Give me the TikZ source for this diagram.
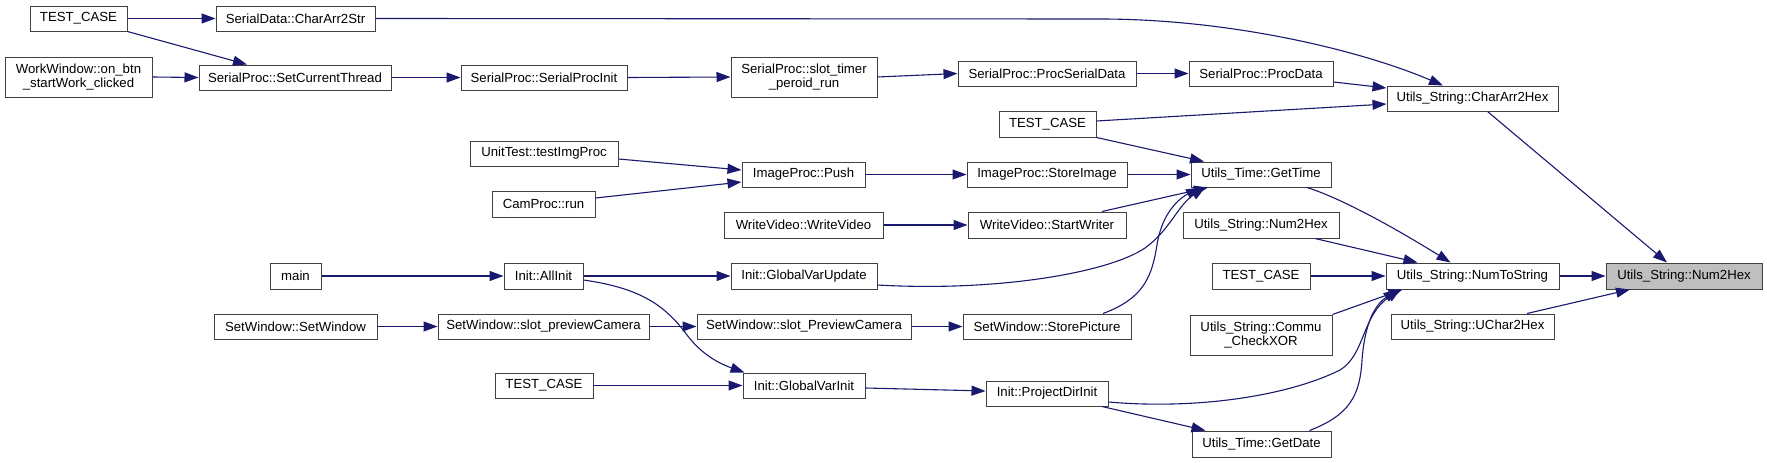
\documentclass[tikz,border=0pt]{standalone}
\usepackage{fontspec}
\setmainfont{Liberation Sans}
\usetikzlibrary{arrows.meta}
\definecolor{edgeblue}{HTML}{191970}
\definecolor{boxline}{HTML}{404040}
\definecolor{hilite}{HTML}{BFBFBF}
\tikzset{
  box/.style={draw=boxline, line width=1pt, fill=white, inner sep=0pt, align=center,
    font=\fontsize{13.2}{14.8}\selectfont},
  callarrow/.style={draw=edgeblue, line width=1.1pt, -{Triangle[length=14pt,width=10pt]}},
}
\newcommand\bx[6]{\node[box, minimum width={(#4-#2)*1pt}, minimum height={(#5-#3)*1pt}] (#1) at ({(#2+#4)/2},{(#3+#5)/2}) {#6};}
\begin{document}
\begin{tikzpicture}[x=1pt,y=-1pt]
\useasboundingbox[fill=white] (0,0) rectangle (1767,463);
% nodes
\bx{tcA}{30}{6}{127}{31}{TEST\_CASE}
\bx{cas}{216}{6}{375}{31}{SerialData::CharArr2Str}
\bx{ww}{5}{57}{152}{97}{WorkWindow::on\_btn\\\_startWork\_clicked}
\bx{sct}{199}{65}{391}{90}{SerialProc::SetCurrentThread}
\bx{spi}{461}{65}{627}{90}{SerialProc::SerialProcInit}
\bx{stp}{731}{57}{877}{97}{SerialProc::slot\_timer\\\_peroid\_run}
\bx{psd}{958}{61}{1136}{86}{SerialProc::ProcSerialData}
\bx{pd}{1189}{61}{1333}{86}{SerialProc::ProcData}
\bx{ca2h}{1387}{86}{1558}{111}{Utils\_String::CharArr2Hex}
\bx{tcB}{999}{111}{1096}{137}{TEST\_CASE}
\bx{ut}{470}{141}{618}{166}{UnitTest::testImgProc}
\bx{cam}{492}{191}{595}{217}{CamProc::run}
\bx{push}{742}{162}{865}{187}{ImageProc::Push}
\bx{si}{967}{162}{1127}{187}{ImageProc::StoreImage}
\bx{gt}{1191}{162}{1331}{187}{Utils\_Time::GetTime}
\bx{wvv}{724}{212}{883}{238}{WriteVideo::WriteVideo}
\bx{sw}{968}{212}{1126}{238}{WriteVideo::StartWriter}
\bx{n2hL}{1183}{212}{1339}{238}{Utils\_String::Num2Hex}
\bx{main}{270}{263}{321}{289}{main}
\bx{ai}{504}{263}{583}{289}{Init::AllInit}
\bx{gvu}{731}{263}{877}{289}{Init::GlobalVarUpdate}
\bx{tcC}{1212}{263}{1310}{289}{TEST\_CASE}
\bx{nts}{1386}{263}{1559}{289}{Utils\_String::NumToString}
\node[box, fill=hilite, minimum width=156pt, minimum height=26pt] (n2h) at (1684,276) {Utils\_String::Num2Hex};
\bx{sws}{214}{314}{377}{339}{SetWindow::SetWindow}
\bx{spc}{438}{314}{649}{339}{SetWindow::slot\_previewCamera}
\bx{sPC}{697}{314}{911}{339}{SetWindow::slot\_PreviewCamera}
\bx{sp}{963}{314}{1131}{339}{SetWindow::StorePicture}
\bx{xor}{1190}{315}{1332}{355}{Utils\_String::Commu\\\_CheckXOR}
\bx{u2h}{1391}{314}{1554}{339}{Utils\_String::UChar2Hex}
\bx{tcD}{495}{373}{593}{398}{TEST\_CASE}
\bx{gvi}{743}{373}{865}{398}{Init::GlobalVarInit}
\bx{pdi}{986}{381}{1108}{406}{Init::ProjectDirInit}
\bx{gd}{1192}{431}{1331}{457}{Utils\_Time::GetDate}
% edges
\draw[callarrow] (tcA.east) -- (cas.west);
\draw[callarrow] (tcA.south east) -- ([xshift=-48pt]sct.north);
\draw[callarrow] (ww.east) -- (sct.west);
\draw[callarrow] (sct.east) -- (spi.west);
\draw[callarrow] (spi.east) -- (stp.west);
\draw[callarrow] (stp.east) -- (psd.west);
\draw[callarrow] (psd.east) -- (pd.west);
\draw[callarrow] ([yshift=-8.5pt]pd.east) -- ([yshift=10.5pt]ca2h.west);
\draw[callarrow] (cas.east) -- (1100,19) .. controls (1230,19) and (1360,50) .. ([xshift=-29.5pt]ca2h.north);
\draw[callarrow] ([yshift=3pt]tcB.east) -- ([yshift=-5.5pt]ca2h.west);
\draw[callarrow] (tcB.south east) -- ([xshift=-57pt]gt.north);
\draw[callarrow] ([yshift=-5.5pt]ut.east) -- ([yshift=4.5pt]push.west);
\draw[callarrow] ([yshift=6pt]cam.east) -- ([yshift=-7.5pt]push.west);
\draw[callarrow] (push.east) -- (si.west);
\draw[callarrow] (si.east) -- (gt.west);
\draw[callarrow] (wvv.east) -- (sw.west);
\draw[callarrow] ([xshift=55pt]sw.north) -- ([xshift=-53pt]gt.south);
\draw[callarrow] (main.east) -- (ai.west);
\draw[callarrow] (ai.east) -- (gvu.west);
\draw[callarrow] ([yshift=-4pt]ai.east) .. controls (640,288) and (665,305) .. (687,335) .. controls (700,352) and (715,362) .. ([xshift=2pt]gvi.north west);
\draw[callarrow] ([yshift=-9pt]gvu.east) .. controls (1000,292) and (1110,272) .. (1145,248) .. controls (1170,230) and (1178,205) .. ([xshift=-56pt]gt.south);
\draw[callarrow] (sws.east) -- (spc.west);
\draw[callarrow] (spc.east) -- (sPC.west);
\draw[callarrow] (sPC.east) -- (sp.west);
\draw[callarrow] ([xshift=56pt]sp.north) .. controls (1145,298) and (1152,275) .. (1157,245) .. controls (1162,212) and (1180,198) .. ([xshift=-61pt]gt.south);
\draw[callarrow] (tcD.east) -- (gvi.west);
\draw[callarrow] ([yshift=-2.5pt]gvi.east) -- ([yshift=2.5pt]pdi.west);
\draw[callarrow] ([yshift=-8.5pt]pdi.east) .. controls (1200,410) and (1290,395) .. (1340,370) .. controls (1365,355) and (1362,315) .. ([xshift=-72pt]nts.south);
\draw[callarrow] ([xshift=55pt]pdi.south) -- ([xshift=-56pt]gd.north);
\draw[callarrow] ([xshift=48pt]gd.north) .. controls (1350,415) and (1360,395) .. (1362,360) .. controls (1365,322) and (1375,305) .. ([xshift=-75pt]nts.south);
\draw[callarrow] ([xshift=46pt]gt.south) .. controls (1340,198) and (1390,225) .. ([xshift=-22pt]nts.north);
\draw[callarrow] ([xshift=54pt]n2hL.south) -- ([xshift=-55pt]nts.north);
\draw[callarrow] (tcC.east) -- (nts.west);
\draw[callarrow] (xor.north east) -- ([xshift=-70pt]nts.south);
\draw[callarrow] ([xshift=15pt]ca2h.south) -- ([xshift=-17pt]n2h.north);
\draw[callarrow] (nts.east) -- (n2h.west);
\draw[callarrow] ([xshift=54.5pt]u2h.north) -- ([xshift=-54pt]n2h.south);
\end{tikzpicture}
\end{document}
